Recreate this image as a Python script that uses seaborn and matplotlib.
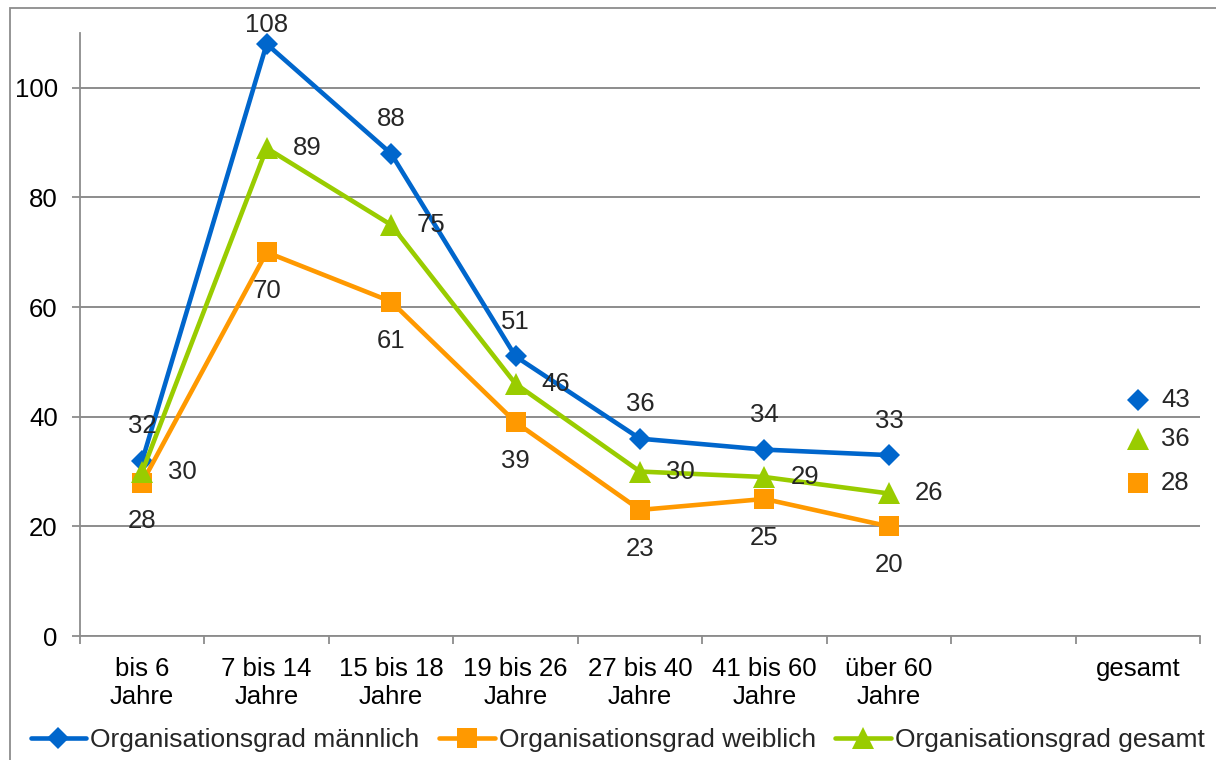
import matplotlib
matplotlib.use("Agg")
import matplotlib.pyplot as plt
from matplotlib.patches import Rectangle
import pandas as pd
import seaborn as sns

# Category axis: seven age groups, one empty slot, then the overall value
categories = ["bis 6\nJahre", "7 bis 14\nJahre", "15 bis 18\nJahre", "19 bis 26\nJahre",
              "27 bis 40\nJahre", "41 bis 60\nJahre", "über 60\nJahre", "", "gesamt"]
age_groups = categories[:7]
total_category = "gesamt"

maennlich = [32, 108, 88, 51, 36, 34, 33]
weiblich = [28, 70, 61, 39, 23, 25, 20]
gesamt = [30, 89, 75, 46, 30, 29, 26]

total_maennlich = 43
total_weiblich = 28
total_gesamt = 36

series_names = ["Organisationsgrad männlich", "Organisationsgrad weiblich", "Organisationsgrad gesamt"]
y_ticks = [0, 20, 40, 60, 80, 100]
y_max = 110

sns.set_theme(style="white")
plt.rcParams["font.family"] = ["Liberation Sans", "DejaVu Sans"]
plt.rcParams["font.size"] = 18.5

BLUE, ORANGE, GREEN = "#0066CC", "#FF9900", "#99CC00"
GRAY = "#8c8c8c"
FS = 18.5

fig = plt.figure(figsize=(12.16, 7.6), dpi=100)
ax = fig.add_axes([80 / 1216, 1 - 636 / 760, (1200 - 80) / 1216, (636 - 33) / 760])

pos = {c: i for i, c in enumerate(categories)}
series = [
    (series_names[0], maennlich, total_maennlich, BLUE, "D", 11.5, "above"),
    (series_names[1], weiblich, total_weiblich, ORANGE, "s", 14.5, "below"),
    (series_names[2], gesamt, total_gesamt, GREEN, "^", 15.5, "right"),
]

for name, vals, total, color, marker, ms, where in series:
    df = pd.DataFrame({"pos": [pos[c] for c in age_groups], "wert": vals})
    sns.lineplot(data=df, x="pos", y="wert", color=color, lw=3.3, marker=marker,
                 markersize=ms, markeredgewidth=0, label=name, ax=ax)
    tdf = pd.DataFrame({"pos": [pos[total_category]], "wert": [total]})
    sns.lineplot(data=tdf, x="pos", y="wert", color=color, marker=marker,
                 markersize=ms, markeredgewidth=0, lw=0, ax=ax, legend=False)

    for x, v in zip(df["pos"], df["wert"]):
        if where == "above":
            ax.annotate(f"{v}", (x, min(v + 6.3, y_max + 1.5)), ha="center", va="center",
                        fontsize=FS, annotation_clip=False)
        elif where == "below":
            ax.annotate(f"{v}", (x, v - 7.1), ha="center", va="center", fontsize=FS,
                        annotation_clip=False)
        else:
            ax.annotate(f"{v}", (x, v), xytext=(29, 0), textcoords="offset points",
                        ha="center", va="center", fontsize=FS)
    ax.annotate(f"{total}", (pos[total_category], total), xytext=(27, 0),
                textcoords="offset points", ha="center", va="center", fontsize=FS)

# Axes styling
ax.set_xlim(-0.5, len(categories) - 0.5)
ax.set_ylim(0, y_max)
ax.set_yticks(y_ticks)
ax.set_xticks(range(len(categories)))
ax.set_xticklabels(categories, linespacing=1.2)
ax.set_xticks([i - 0.5 for i in range(len(categories) + 1)], minor=True)
ax.tick_params(axis="x", which="major", length=0, pad=15, labelsize=FS, colors="black")
ax.tick_params(axis="x", which="minor", length=6, width=1.3, color=GRAY, bottom=True)
ax.tick_params(axis="y", length=6, width=1.3, color=GRAY, pad=10, labelsize=FS,
               labelcolor="black", left=True)
ax.set_xlabel("")
ax.set_ylabel("")
ax.grid(axis="y", color=GRAY, lw=1.4)
ax.grid(axis="x", visible=False)
ax.set_axisbelow(True)
for side in ["top", "right"]:
    ax.spines[side].set_visible(False)
for side in ["left", "bottom"]:
    ax.spines[side].set_color(GRAY)
    ax.spines[side].set_linewidth(1.3)

handles, labels = ax.get_legend_handles_labels()
ax.get_legend().remove()
fig.legend(handles, labels, loc="center", bbox_to_anchor=(0.508, 0.026), ncol=3,
           frameon=False, handlelength=2.1, handletextpad=0.15, columnspacing=0.75,
           fontsize=19, borderaxespad=0, borderpad=0)

# Outer chart frame
fig.add_artist(Rectangle((10 / 1216, -0.1), 1.2, (1 - 8 / 760) + 0.1, fill=False,
                         edgecolor=GRAY, lw=1.3, transform=fig.transFigure, clip_on=False))

fig.savefig("out.png", dpi=100)
